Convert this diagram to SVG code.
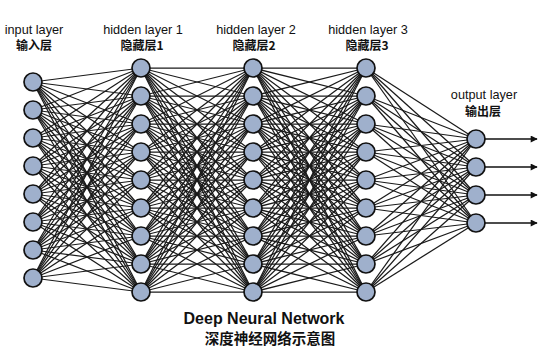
<svg xmlns="http://www.w3.org/2000/svg" width="540" height="364" viewBox="0 0 540 364">
<style>
.n{fill:#9fb0cc;stroke:#111;stroke-width:1.7}
.c line{stroke:#1a1a1a;stroke-width:1.25}
.o line{stroke:#111;stroke-width:1.7}
.t{font-family:"Liberation Sans",Arial,sans-serif;font-size:12.7px;fill:#111;text-anchor:middle}
.z{font-family:"Noto Sans CJK SC","Liberation Sans",sans-serif;font-size:12px;font-weight:bold;fill:#111;text-anchor:middle}
.h{font-family:"Liberation Sans",Arial,sans-serif;font-size:16px;font-weight:bold;fill:#111;text-anchor:middle}
.hz{font-family:"Noto Sans CJK SC","Liberation Sans",sans-serif;font-size:14.5px;font-weight:bold;fill:#111;text-anchor:middle}
</style>
<defs>
<marker id="ah" viewBox="0 0 10 10" refX="9" refY="5" markerWidth="8" markerHeight="7" markerUnits="userSpaceOnUse" orient="auto"><path d="M0,0L10,5L0,10z" fill="#111"/></marker>
</defs>
<rect width="540" height="364" fill="#fff"/>
<g id="connectors">
<g class="c">
<line x1="33" y1="82" x2="141" y2="68"/><line x1="33" y1="82" x2="141" y2="96"/><line x1="33" y1="82" x2="141" y2="124"/><line x1="33" y1="82" x2="141" y2="152"/><line x1="33" y1="82" x2="141" y2="180"/><line x1="33" y1="82" x2="141" y2="208"/><line x1="33" y1="82" x2="141" y2="236"/><line x1="33" y1="82" x2="141" y2="264"/><line x1="33" y1="82" x2="141" y2="292"/>
<line x1="33" y1="110" x2="141" y2="68"/><line x1="33" y1="110" x2="141" y2="96"/><line x1="33" y1="110" x2="141" y2="124"/><line x1="33" y1="110" x2="141" y2="152"/><line x1="33" y1="110" x2="141" y2="180"/><line x1="33" y1="110" x2="141" y2="208"/><line x1="33" y1="110" x2="141" y2="236"/><line x1="33" y1="110" x2="141" y2="264"/><line x1="33" y1="110" x2="141" y2="292"/>
<line x1="33" y1="138" x2="141" y2="68"/><line x1="33" y1="138" x2="141" y2="96"/><line x1="33" y1="138" x2="141" y2="124"/><line x1="33" y1="138" x2="141" y2="152"/><line x1="33" y1="138" x2="141" y2="180"/><line x1="33" y1="138" x2="141" y2="208"/><line x1="33" y1="138" x2="141" y2="236"/><line x1="33" y1="138" x2="141" y2="264"/><line x1="33" y1="138" x2="141" y2="292"/>
<line x1="33" y1="166" x2="141" y2="68"/><line x1="33" y1="166" x2="141" y2="96"/><line x1="33" y1="166" x2="141" y2="124"/><line x1="33" y1="166" x2="141" y2="152"/><line x1="33" y1="166" x2="141" y2="180"/><line x1="33" y1="166" x2="141" y2="208"/><line x1="33" y1="166" x2="141" y2="236"/><line x1="33" y1="166" x2="141" y2="264"/><line x1="33" y1="166" x2="141" y2="292"/>
<line x1="33" y1="194" x2="141" y2="68"/><line x1="33" y1="194" x2="141" y2="96"/><line x1="33" y1="194" x2="141" y2="124"/><line x1="33" y1="194" x2="141" y2="152"/><line x1="33" y1="194" x2="141" y2="180"/><line x1="33" y1="194" x2="141" y2="208"/><line x1="33" y1="194" x2="141" y2="236"/><line x1="33" y1="194" x2="141" y2="264"/><line x1="33" y1="194" x2="141" y2="292"/>
<line x1="33" y1="222" x2="141" y2="68"/><line x1="33" y1="222" x2="141" y2="96"/><line x1="33" y1="222" x2="141" y2="124"/><line x1="33" y1="222" x2="141" y2="152"/><line x1="33" y1="222" x2="141" y2="180"/><line x1="33" y1="222" x2="141" y2="208"/><line x1="33" y1="222" x2="141" y2="236"/><line x1="33" y1="222" x2="141" y2="264"/><line x1="33" y1="222" x2="141" y2="292"/>
<line x1="33" y1="250" x2="141" y2="68"/><line x1="33" y1="250" x2="141" y2="96"/><line x1="33" y1="250" x2="141" y2="124"/><line x1="33" y1="250" x2="141" y2="152"/><line x1="33" y1="250" x2="141" y2="180"/><line x1="33" y1="250" x2="141" y2="208"/><line x1="33" y1="250" x2="141" y2="236"/><line x1="33" y1="250" x2="141" y2="264"/><line x1="33" y1="250" x2="141" y2="292"/>
<line x1="33" y1="278" x2="141" y2="68"/><line x1="33" y1="278" x2="141" y2="96"/><line x1="33" y1="278" x2="141" y2="124"/><line x1="33" y1="278" x2="141" y2="152"/><line x1="33" y1="278" x2="141" y2="180"/><line x1="33" y1="278" x2="141" y2="208"/><line x1="33" y1="278" x2="141" y2="236"/><line x1="33" y1="278" x2="141" y2="264"/><line x1="33" y1="278" x2="141" y2="292"/>

<line x1="141" y1="68" x2="253" y2="68"/><line x1="141" y1="68" x2="253" y2="96"/><line x1="141" y1="68" x2="253" y2="124"/><line x1="141" y1="68" x2="253" y2="152"/><line x1="141" y1="68" x2="253" y2="180"/><line x1="141" y1="68" x2="253" y2="208"/><line x1="141" y1="68" x2="253" y2="236"/><line x1="141" y1="68" x2="253" y2="264"/><line x1="141" y1="68" x2="253" y2="292"/>
<line x1="141" y1="96" x2="253" y2="68"/><line x1="141" y1="96" x2="253" y2="96"/><line x1="141" y1="96" x2="253" y2="124"/><line x1="141" y1="96" x2="253" y2="152"/><line x1="141" y1="96" x2="253" y2="180"/><line x1="141" y1="96" x2="253" y2="208"/><line x1="141" y1="96" x2="253" y2="236"/><line x1="141" y1="96" x2="253" y2="264"/><line x1="141" y1="96" x2="253" y2="292"/>
<line x1="141" y1="124" x2="253" y2="68"/><line x1="141" y1="124" x2="253" y2="96"/><line x1="141" y1="124" x2="253" y2="124"/><line x1="141" y1="124" x2="253" y2="152"/><line x1="141" y1="124" x2="253" y2="180"/><line x1="141" y1="124" x2="253" y2="208"/><line x1="141" y1="124" x2="253" y2="236"/><line x1="141" y1="124" x2="253" y2="264"/><line x1="141" y1="124" x2="253" y2="292"/>
<line x1="141" y1="152" x2="253" y2="68"/><line x1="141" y1="152" x2="253" y2="96"/><line x1="141" y1="152" x2="253" y2="124"/><line x1="141" y1="152" x2="253" y2="152"/><line x1="141" y1="152" x2="253" y2="180"/><line x1="141" y1="152" x2="253" y2="208"/><line x1="141" y1="152" x2="253" y2="236"/><line x1="141" y1="152" x2="253" y2="264"/><line x1="141" y1="152" x2="253" y2="292"/>
<line x1="141" y1="180" x2="253" y2="68"/><line x1="141" y1="180" x2="253" y2="96"/><line x1="141" y1="180" x2="253" y2="124"/><line x1="141" y1="180" x2="253" y2="152"/><line x1="141" y1="180" x2="253" y2="180"/><line x1="141" y1="180" x2="253" y2="208"/><line x1="141" y1="180" x2="253" y2="236"/><line x1="141" y1="180" x2="253" y2="264"/><line x1="141" y1="180" x2="253" y2="292"/>
<line x1="141" y1="208" x2="253" y2="68"/><line x1="141" y1="208" x2="253" y2="96"/><line x1="141" y1="208" x2="253" y2="124"/><line x1="141" y1="208" x2="253" y2="152"/><line x1="141" y1="208" x2="253" y2="180"/><line x1="141" y1="208" x2="253" y2="208"/><line x1="141" y1="208" x2="253" y2="236"/><line x1="141" y1="208" x2="253" y2="264"/><line x1="141" y1="208" x2="253" y2="292"/>
<line x1="141" y1="236" x2="253" y2="68"/><line x1="141" y1="236" x2="253" y2="96"/><line x1="141" y1="236" x2="253" y2="124"/><line x1="141" y1="236" x2="253" y2="152"/><line x1="141" y1="236" x2="253" y2="180"/><line x1="141" y1="236" x2="253" y2="208"/><line x1="141" y1="236" x2="253" y2="236"/><line x1="141" y1="236" x2="253" y2="264"/><line x1="141" y1="236" x2="253" y2="292"/>
<line x1="141" y1="264" x2="253" y2="68"/><line x1="141" y1="264" x2="253" y2="96"/><line x1="141" y1="264" x2="253" y2="124"/><line x1="141" y1="264" x2="253" y2="152"/><line x1="141" y1="264" x2="253" y2="180"/><line x1="141" y1="264" x2="253" y2="208"/><line x1="141" y1="264" x2="253" y2="236"/><line x1="141" y1="264" x2="253" y2="264"/><line x1="141" y1="264" x2="253" y2="292"/>
<line x1="141" y1="292" x2="253" y2="68"/><line x1="141" y1="292" x2="253" y2="96"/><line x1="141" y1="292" x2="253" y2="124"/><line x1="141" y1="292" x2="253" y2="152"/><line x1="141" y1="292" x2="253" y2="180"/><line x1="141" y1="292" x2="253" y2="208"/><line x1="141" y1="292" x2="253" y2="236"/><line x1="141" y1="292" x2="253" y2="264"/><line x1="141" y1="292" x2="253" y2="292"/>

<line x1="253" y1="68" x2="366" y2="68"/><line x1="253" y1="68" x2="366" y2="96"/><line x1="253" y1="68" x2="366" y2="124"/><line x1="253" y1="68" x2="366" y2="152"/><line x1="253" y1="68" x2="366" y2="180"/><line x1="253" y1="68" x2="366" y2="208"/><line x1="253" y1="68" x2="366" y2="236"/><line x1="253" y1="68" x2="366" y2="264"/><line x1="253" y1="68" x2="366" y2="292"/>
<line x1="253" y1="96" x2="366" y2="68"/><line x1="253" y1="96" x2="366" y2="96"/><line x1="253" y1="96" x2="366" y2="124"/><line x1="253" y1="96" x2="366" y2="152"/><line x1="253" y1="96" x2="366" y2="180"/><line x1="253" y1="96" x2="366" y2="208"/><line x1="253" y1="96" x2="366" y2="236"/><line x1="253" y1="96" x2="366" y2="264"/><line x1="253" y1="96" x2="366" y2="292"/>
<line x1="253" y1="124" x2="366" y2="68"/><line x1="253" y1="124" x2="366" y2="96"/><line x1="253" y1="124" x2="366" y2="124"/><line x1="253" y1="124" x2="366" y2="152"/><line x1="253" y1="124" x2="366" y2="180"/><line x1="253" y1="124" x2="366" y2="208"/><line x1="253" y1="124" x2="366" y2="236"/><line x1="253" y1="124" x2="366" y2="264"/><line x1="253" y1="124" x2="366" y2="292"/>
<line x1="253" y1="152" x2="366" y2="68"/><line x1="253" y1="152" x2="366" y2="96"/><line x1="253" y1="152" x2="366" y2="124"/><line x1="253" y1="152" x2="366" y2="152"/><line x1="253" y1="152" x2="366" y2="180"/><line x1="253" y1="152" x2="366" y2="208"/><line x1="253" y1="152" x2="366" y2="236"/><line x1="253" y1="152" x2="366" y2="264"/><line x1="253" y1="152" x2="366" y2="292"/>
<line x1="253" y1="180" x2="366" y2="68"/><line x1="253" y1="180" x2="366" y2="96"/><line x1="253" y1="180" x2="366" y2="124"/><line x1="253" y1="180" x2="366" y2="152"/><line x1="253" y1="180" x2="366" y2="180"/><line x1="253" y1="180" x2="366" y2="208"/><line x1="253" y1="180" x2="366" y2="236"/><line x1="253" y1="180" x2="366" y2="264"/><line x1="253" y1="180" x2="366" y2="292"/>
<line x1="253" y1="208" x2="366" y2="68"/><line x1="253" y1="208" x2="366" y2="96"/><line x1="253" y1="208" x2="366" y2="124"/><line x1="253" y1="208" x2="366" y2="152"/><line x1="253" y1="208" x2="366" y2="180"/><line x1="253" y1="208" x2="366" y2="208"/><line x1="253" y1="208" x2="366" y2="236"/><line x1="253" y1="208" x2="366" y2="264"/><line x1="253" y1="208" x2="366" y2="292"/>
<line x1="253" y1="236" x2="366" y2="68"/><line x1="253" y1="236" x2="366" y2="96"/><line x1="253" y1="236" x2="366" y2="124"/><line x1="253" y1="236" x2="366" y2="152"/><line x1="253" y1="236" x2="366" y2="180"/><line x1="253" y1="236" x2="366" y2="208"/><line x1="253" y1="236" x2="366" y2="236"/><line x1="253" y1="236" x2="366" y2="264"/><line x1="253" y1="236" x2="366" y2="292"/>
<line x1="253" y1="264" x2="366" y2="68"/><line x1="253" y1="264" x2="366" y2="96"/><line x1="253" y1="264" x2="366" y2="124"/><line x1="253" y1="264" x2="366" y2="152"/><line x1="253" y1="264" x2="366" y2="180"/><line x1="253" y1="264" x2="366" y2="208"/><line x1="253" y1="264" x2="366" y2="236"/><line x1="253" y1="264" x2="366" y2="264"/><line x1="253" y1="264" x2="366" y2="292"/>
<line x1="253" y1="292" x2="366" y2="68"/><line x1="253" y1="292" x2="366" y2="96"/><line x1="253" y1="292" x2="366" y2="124"/><line x1="253" y1="292" x2="366" y2="152"/><line x1="253" y1="292" x2="366" y2="180"/><line x1="253" y1="292" x2="366" y2="208"/><line x1="253" y1="292" x2="366" y2="236"/><line x1="253" y1="292" x2="366" y2="264"/><line x1="253" y1="292" x2="366" y2="292"/>

<line x1="366" y1="68" x2="476" y2="139"/><line x1="366" y1="68" x2="476" y2="167"/><line x1="366" y1="68" x2="476" y2="195"/><line x1="366" y1="68" x2="476" y2="223"/>
<line x1="366" y1="96" x2="476" y2="139"/><line x1="366" y1="96" x2="476" y2="167"/><line x1="366" y1="96" x2="476" y2="195"/><line x1="366" y1="96" x2="476" y2="223"/>
<line x1="366" y1="124" x2="476" y2="139"/><line x1="366" y1="124" x2="476" y2="167"/><line x1="366" y1="124" x2="476" y2="195"/><line x1="366" y1="124" x2="476" y2="223"/>
<line x1="366" y1="152" x2="476" y2="139"/><line x1="366" y1="152" x2="476" y2="167"/><line x1="366" y1="152" x2="476" y2="195"/><line x1="366" y1="152" x2="476" y2="223"/>
<line x1="366" y1="180" x2="476" y2="139"/><line x1="366" y1="180" x2="476" y2="167"/><line x1="366" y1="180" x2="476" y2="195"/><line x1="366" y1="180" x2="476" y2="223"/>
<line x1="366" y1="208" x2="476" y2="139"/><line x1="366" y1="208" x2="476" y2="167"/><line x1="366" y1="208" x2="476" y2="195"/><line x1="366" y1="208" x2="476" y2="223"/>
<line x1="366" y1="236" x2="476" y2="139"/><line x1="366" y1="236" x2="476" y2="167"/><line x1="366" y1="236" x2="476" y2="195"/><line x1="366" y1="236" x2="476" y2="223"/>
<line x1="366" y1="264" x2="476" y2="139"/><line x1="366" y1="264" x2="476" y2="167"/><line x1="366" y1="264" x2="476" y2="195"/><line x1="366" y1="264" x2="476" y2="223"/>
<line x1="366" y1="292" x2="476" y2="139"/><line x1="366" y1="292" x2="476" y2="167"/><line x1="366" y1="292" x2="476" y2="195"/><line x1="366" y1="292" x2="476" y2="223"/>
</g>
<g class="o">
<line x1="484" y1="139" x2="537" y2="139" marker-end="url(#ah)"/>
<line x1="484" y1="167" x2="537" y2="167" marker-end="url(#ah)"/>
<line x1="484" y1="195" x2="537" y2="195" marker-end="url(#ah)"/>
<line x1="484" y1="223" x2="537" y2="223" marker-end="url(#ah)"/>
</g>
</g>
<g id="input-layer">
<text class="t" x="34" y="34">input layer</text>
<text class="z" x="34" y="50">输入层</text>
<circle class="n" cx="33" cy="82" r="9"/><circle class="n" cx="33" cy="110" r="9"/><circle class="n" cx="33" cy="138" r="9"/><circle class="n" cx="33" cy="166" r="9"/><circle class="n" cx="33" cy="194" r="9"/><circle class="n" cx="33" cy="222" r="9"/><circle class="n" cx="33" cy="250" r="9"/><circle class="n" cx="33" cy="278" r="9"/>
</g>
<g id="hidden-layer-1">
<text class="t" x="143" y="34">hidden layer 1</text>
<text class="z" x="142" y="50">隐藏层1</text>
<circle class="n" cx="141" cy="68" r="9"/><circle class="n" cx="141" cy="96" r="9"/><circle class="n" cx="141" cy="124" r="9"/><circle class="n" cx="141" cy="152" r="9"/><circle class="n" cx="141" cy="180" r="9"/><circle class="n" cx="141" cy="208" r="9"/><circle class="n" cx="141" cy="236" r="9"/><circle class="n" cx="141" cy="264" r="9"/><circle class="n" cx="141" cy="292" r="9"/>
</g>
<g id="hidden-layer-2">
<text class="t" x="256" y="34">hidden layer 2</text>
<text class="z" x="254" y="50">隐藏层2</text>
<circle class="n" cx="253" cy="68" r="9"/><circle class="n" cx="253" cy="96" r="9"/><circle class="n" cx="253" cy="124" r="9"/><circle class="n" cx="253" cy="152" r="9"/><circle class="n" cx="253" cy="180" r="9"/><circle class="n" cx="253" cy="208" r="9"/><circle class="n" cx="253" cy="236" r="9"/><circle class="n" cx="253" cy="264" r="9"/><circle class="n" cx="253" cy="292" r="9"/>
</g>
<g id="hidden-layer-3">
<text class="t" x="368" y="34">hidden layer 3</text>
<text class="z" x="367" y="50">隐藏层3</text>
<circle class="n" cx="366" cy="68" r="9"/><circle class="n" cx="366" cy="96" r="9"/><circle class="n" cx="366" cy="124" r="9"/><circle class="n" cx="366" cy="152" r="9"/><circle class="n" cx="366" cy="180" r="9"/><circle class="n" cx="366" cy="208" r="9"/><circle class="n" cx="366" cy="236" r="9"/><circle class="n" cx="366" cy="264" r="9"/><circle class="n" cx="366" cy="292" r="9"/>
</g>
<g id="output-layer">
<text class="t" x="484" y="99">output layer</text>
<text class="z" x="483" y="116">输出层</text>
<circle class="n" cx="476" cy="139" r="9"/><circle class="n" cx="476" cy="167" r="9"/><circle class="n" cx="476" cy="195" r="9"/><circle class="n" cx="476" cy="223" r="9"/>
</g>
<g id="title">
<text class="h" x="264" y="324">Deep Neural Network</text>
<text class="hz" x="270" y="344">深度神经网络示意图</text>
</g>
</svg>
